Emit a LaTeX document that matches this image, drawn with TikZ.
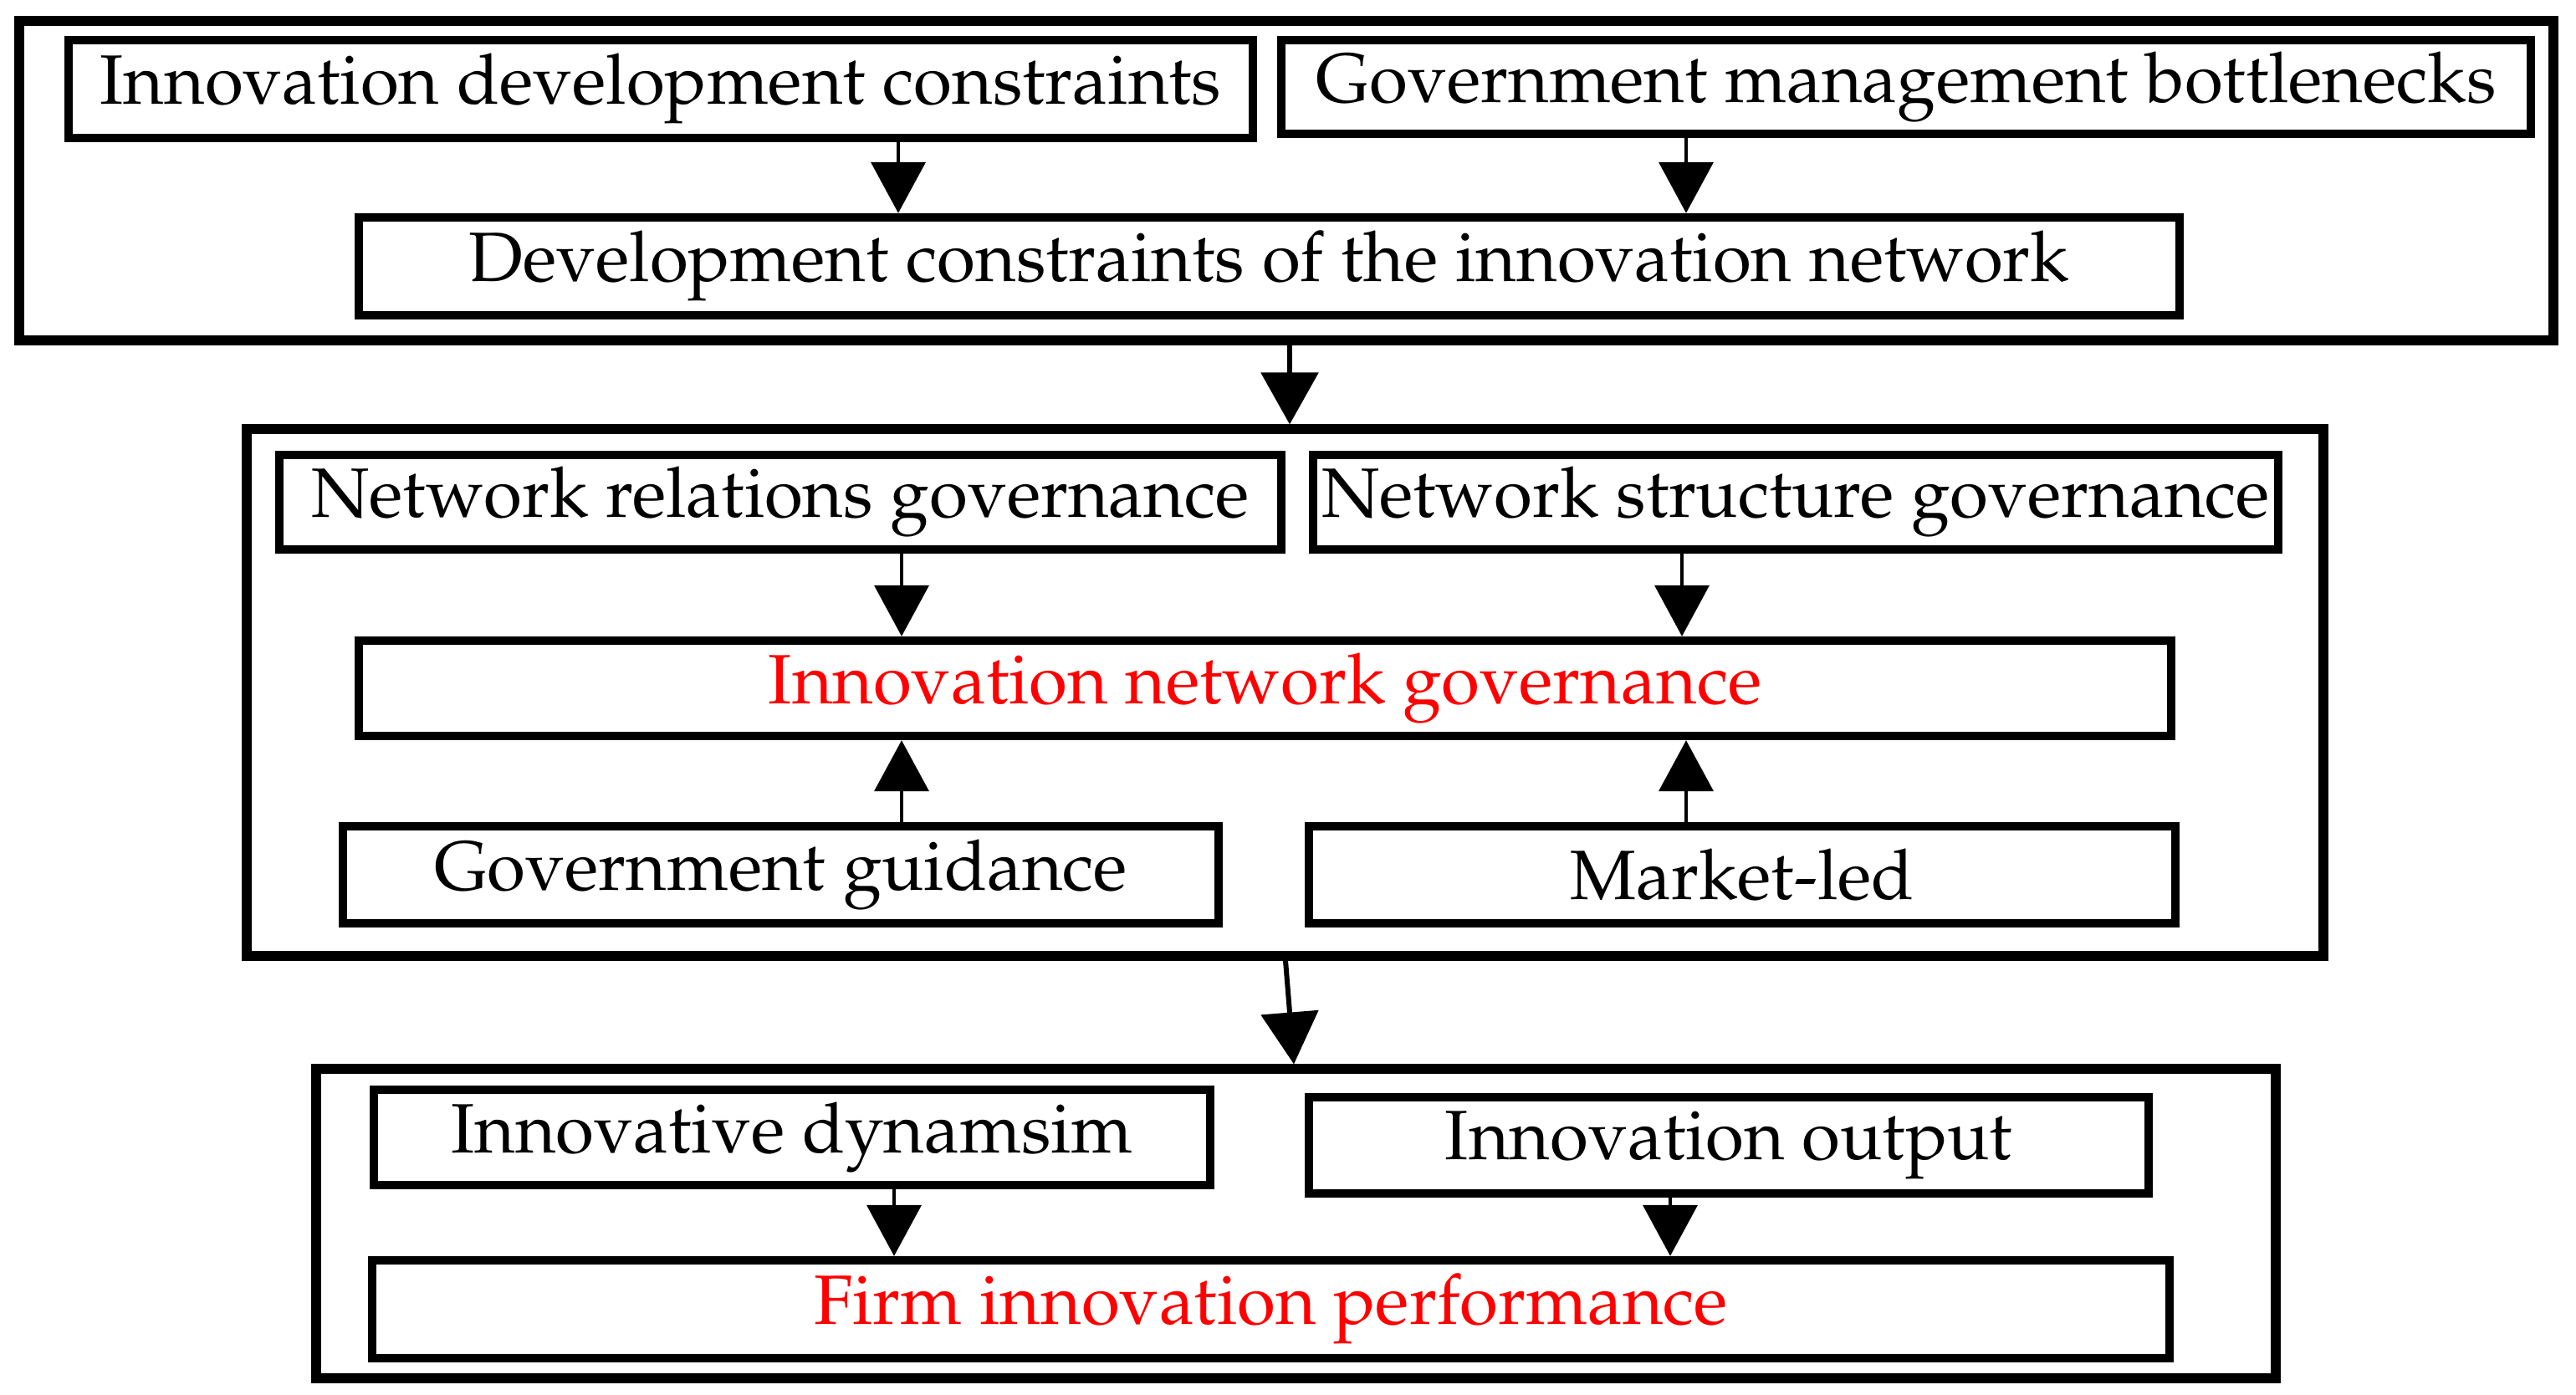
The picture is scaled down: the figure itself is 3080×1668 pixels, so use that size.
\documentclass[tikz,border=0pt]{standalone}
\usepackage[T1]{fontenc}
\renewcommand{\rmdefault}{ppl}
\usetikzlibrary{arrows.meta}
\newcommand{\bx}[7]{%
  \pgfmathsetmacro\bxcx{(#3+#5)/2}%
  \pgfmathsetmacro\bxcy{(#4+#6)/2}%
  \pgfmathsetmacro\bxw{(#5-#3-10)*0.25}%
  \pgfmathsetmacro\bxh{(#6-#4-10)*0.25}%
  \node[#2, minimum width=\bxw pt, minimum height=\bxh pt] (#1) at (\bxcx,\bxcy) {#7};}
\begin{document}
\begin{tikzpicture}[x=0.25pt,y=-0.25pt,
  inbox/.style={draw=black, line width=2.6pt, inner sep=0pt, font=\fontsize{20.9}{24}\selectfont},
  outbox/.style={draw=black, line width=2.8pt, inner sep=0pt},
  redtxt/.style={text=red},
  arr/.style={line width=1pt, -{Triangle[length=15.25pt,width=16.25pt]}},
  bigarr/.style={line width=1.5pt, -{Triangle[length=15.5pt,width=17pt]}}]
\useasboundingbox (0,0) rectangle (3080,1668);
% group 1
\bx{O1}{outbox}{18}{20}{3058}{412}{}
\bx{A}{inbox}{77}{43}{1503}{170}{Innovation development constraints}
\bx{B}{inbox}{1527}{43}{3031}{165}{Government management bottlenecks}
\bx{C}{inbox}{424}{255}{2611}{382}{Development constraints of the innovation network}
% group 2
\bx{O2}{outbox}{290}{508}{2783}{1148}{}
\bx{D}{inbox}{329}{539}{1537}{662}{Network relations governance}
\bx{E}{inbox}{1565}{539}{2729}{662}{Network structure governance}
\bx{F}{inbox,redtxt}{424}{761}{2601}{885}{Innovation network governance}
\bx{G}{inbox}{405}{983}{1462}{1109}{Government guidance}
\bx{H}{inbox}{1560}{983}{2606}{1109}{Market-led}
% group 3
\bx{O3}{outbox}{373}{1273}{2726}{1653}{}
\bx{I}{inbox}{442}{1298}{1452}{1422}{Innovative dynamsim}
\bx{J}{inbox}{1560}{1307}{2574}{1432}{Innovation output}
\bx{K}{inbox,redtxt}{440}{1502}{2599}{1629}{Firm innovation performance}
% arrow columns
\coordinate (xa) at (1074,0);
\coordinate (xb) at (2016,0);
\coordinate (xm) at (1542,0);
\coordinate (xd) at (1078,0);
\coordinate (xe) at (2011,0);
\coordinate (xh) at (2016,0);
\coordinate (xi) at (1069,0);
\coordinate (xj) at (1997,0);
\coordinate (s2a) at (1537,0);
\coordinate (s2b) at (1547,0);
% arrows
\draw[arr] (A.south -| xa) -- (C.north -| xa);
\draw[arr] (B.south -| xb) -- (C.north -| xb);
\draw[bigarr] (O1.south -| xm) -- (O2.north -| xm);
\draw[arr] (D.south -| xd) -- (F.north -| xd);
\draw[arr] (E.south -| xe) -- (F.north -| xe);
\draw[arr] (G.north -| xd) -- (F.south -| xd);
\draw[arr] (H.north -| xh) -- (F.south -| xh);
\draw[bigarr] (O2.south -| s2a) -- (O3.north -| s2b);
\draw[arr] (I.south -| xi) -- (K.north -| xi);
\draw[arr] (J.south -| xj) -- (K.north -| xj);
\end{tikzpicture}
\end{document}
